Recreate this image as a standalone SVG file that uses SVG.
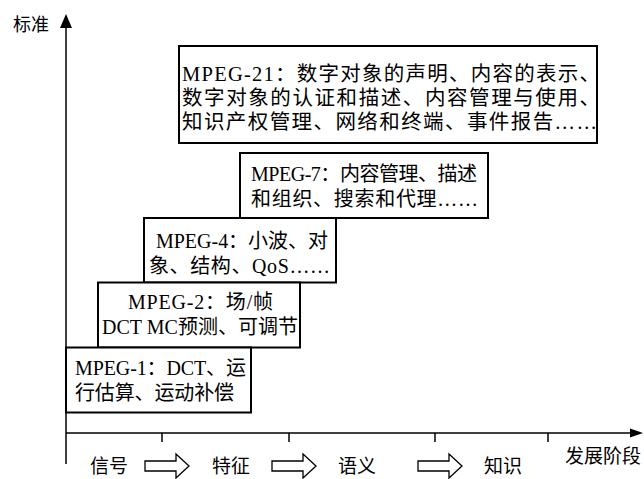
<svg xmlns="http://www.w3.org/2000/svg" width="644" height="479" viewBox="0 0 644 479">
<defs>
<style>
.t{font-family:"Liberation Serif","Noto Sans CJK SC",serif;font-size:20px;fill:#000}
.t21{font-size:20.5px}
.lb{font-family:"Liberation Serif","Noto Sans CJK SC",serif;font-size:19px;fill:#000}
.box{fill:#fff;stroke:#000;stroke-width:2}
.ax{stroke:#000;stroke-width:1.5;fill:none}
.ha{fill:#fff;stroke:#000;stroke-width:1.3}
</style>
<path id="harrow" d="M0,-5 H31 V-12 L44,0 L31,12 V5 H0 Z"/>
</defs>
<rect width="644" height="479" fill="#fff"/>
<g id="connectors">
<line class="ax" x1="66" y1="464" x2="66" y2="26"/>
<polygon points="66,14 60,28 72,28" fill="#000"/>
<line class="ax" x1="66" y1="433" x2="632" y2="433"/>
<polygon points="643,433 630,428.5 630,437.5" fill="#000"/>
<line class="ax" x1="162" y1="433" x2="162" y2="442"/>
<line class="ax" x1="289" y1="433" x2="289" y2="442"/>
<line class="ax" x1="435" y1="433" x2="435" y2="442"/>
<line class="ax" x1="548" y1="433" x2="548" y2="442"/>
<use href="#harrow" class="ha" x="145" y="466"/>
<use href="#harrow" class="ha" x="272" y="466"/>
<use href="#harrow" class="ha" x="418" y="466"/>
</g>
<g id="axis-labels">
<text class="lb" x="13" y="31" style="font-size:18px">标准</text>
<text class="lb" x="565" y="463">发展阶段</text>
<text class="lb" x="90" y="473">信号</text>
<text class="lb" x="212" y="473">特征</text>
<text class="lb" x="338" y="473">语义</text>
<text class="lb" x="484" y="473">知识</text>
</g>
<g id="mpeg21">
<rect class="box" x="179" y="46" width="418" height="97"/>
<text class="t t21" x="182" y="81" textLength="418" lengthAdjust="spacing">MPEG-21：数字对象的声明、内容的表示、</text>
<text class="t t21" x="182" y="105" textLength="418" lengthAdjust="spacing">数字对象的认证和描述、内容管理与使用、</text>
<text class="t t21" x="182" y="129" textLength="415" lengthAdjust="spacing">知识产权管理、网络和终端、事件报告……</text>
</g>
<g id="mpeg7">
<rect class="box" x="240" y="153" width="248" height="65"/>
<text class="t" x="251" y="181" textLength="226" lengthAdjust="spacing">MPEG-7：内容管理、描述</text>
<text class="t" x="251" y="206" textLength="227" lengthAdjust="spacing">和组织、搜索和代理……</text>
</g>
<g id="mpeg4">
<rect class="box" x="144" y="218" width="192" height="64.5"/>
<text class="t" x="156" y="248" textLength="172" lengthAdjust="spacing">MPEG-4：小波、对</text>
<text class="t" x="149" y="273" textLength="181" lengthAdjust="spacing">象、结构、QoS……</text>
</g>
<g id="mpeg2">
<rect class="box" x="98" y="282.5" width="202" height="65"/>
<text class="t" x="128" y="309" textLength="145" lengthAdjust="spacing">MPEG-2：场/帧</text>
<text class="t" x="102" y="334" textLength="196" lengthAdjust="spacing">DCT MC预测、可调节</text>
</g>
<g id="mpeg1">
<rect class="box" x="66" y="347.5" width="185" height="65"/>
<text class="t" x="75" y="375" textLength="171" lengthAdjust="spacing">MPEG-1：DCT、运</text>
<text class="t" x="75" y="400" textLength="159" lengthAdjust="spacing">行估算、运动补偿</text>
</g>
</svg>
